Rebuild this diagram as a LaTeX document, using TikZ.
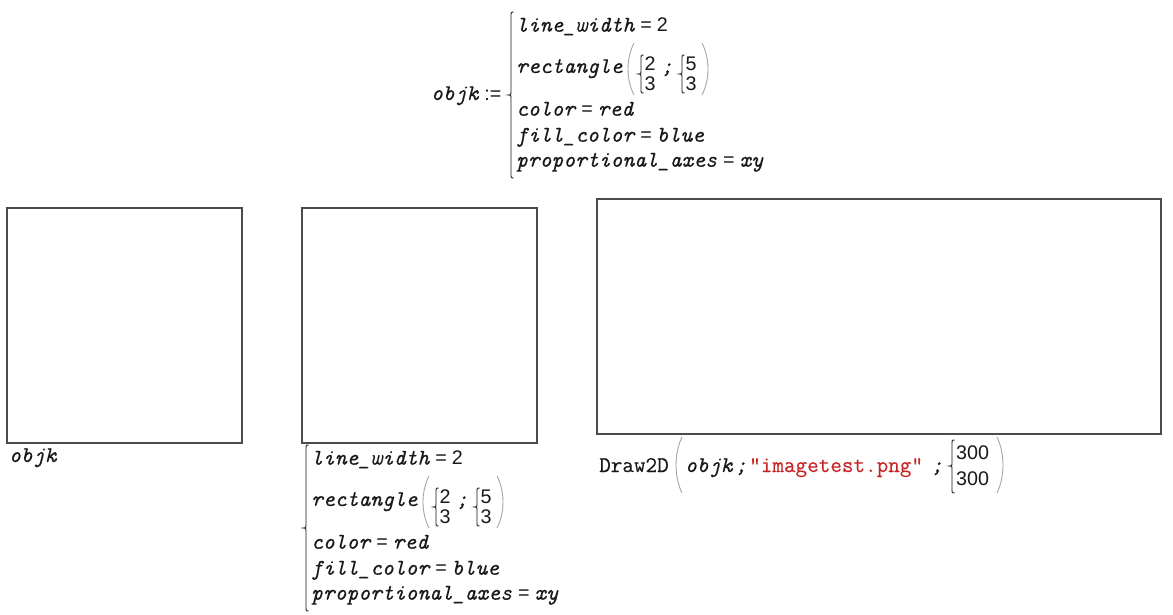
\documentclass[tikz,border=0pt]{standalone}
\usepackage{fontspec}
\newfontfamily\cour{Latin Modern Mono}[FakeBold=0.2]
\newfontfamily\arl{Liberation Sans}
\definecolor{boxgray}{RGB}{75,75,75}
\definecolor{strred}{RGB}{200,35,35}
\definecolor{pargray}{RGB}{165,165,165}
\definecolor{txtblack}{RGB}{25,25,25}

\tikzset{
  txt/.style={inner sep=0pt, anchor=base west, text=txtblack, font=\fontsize{22.5}{26}\cour\itshape},
  up/.style={inner sep=0pt, anchor=base west, text=txtblack, font=\fontsize{22.5}{26}\cour},
  num/.style={inner sep=0pt, anchor=base west, text=txtblack, font=\fontsize{19.7}{23}\arl},
  stack/.style={inner sep=0pt, anchor=base west, text=txtblack, align=left, font=\fontsize{19.7}{20}\arl},
  plot/.style={draw=boxgray, line width=1.6pt},
  bracel/.style={draw=txtblack, line width=0.9pt},
  paren/.style={draw=pargray, line width=0.9pt},
}

\newcommand\sfs{\arl\upshape\fontsize{19.7}{23}\selectfont}
\newcommand\eqsign{\hspace{6pt}{\sfs =}\hspace{5pt}}
% brace: x, ytop, ybot, ytip
\newcommand\mybrace[4]{%
  \draw[bracel] ({#1+2.5},#2) .. controls (#1,#2) .. (#1,{#2+2.5})
    -- (#1,{#4-2.5}) .. controls (#1,#4) .. ({#1-2.5},#4)
    .. controls (#1,#4) .. (#1,{#4+2.5})
    -- (#1,{#3-2.5}) .. controls (#1,#3) .. ({#1+2.5},#3);}
% left paren: xright, ytop, ybot
\newcommand\lparen[3]{%
  \draw[paren] (#1,#2) .. controls ({#1-8},{#2+0.3*(#3-#2)}) and ({#1-8},{#3-0.3*(#3-#2)}) .. (#1,#3);}
% right paren: xleft, ytop, ybot
\newcommand\rparen[3]{%
  \draw[paren] (#1,#2) .. controls ({#1+8},{#2+0.3*(#3-#2)}) and ({#1+8},{#3-0.3*(#3-#2)}) .. (#1,#3);}

\newcommand\objblock[1]{%
  \mybrace{511}{12}{178}{95}
  \node[txt] (#1a) at (516,31.7) {line\_width\eqsign{\sfs 2}};
  \node[txt] (#1b) at (516,73) {rectangle};
  \lparen{634}{43}{95}
  \mybrace{641}{55}{93}{74}
  \node[stack] (#1c) at (644.5,90) {2\\3};
  \node[txt] (#1e) at (661,73) {;};
  \mybrace{682}{55}{93}{74}
  \node[stack] (#1f) at (685.5,90) {5\\3};
  \rparen{702}{43}{95}
  \node[txt] (#1h) at (516,115.7) {color\eqsign red};
  \node[txt] (#1i) at (516,141.7) {fill\_color\eqsign blue};
  \node[txt] (#1j) at (516,166.7) {proportional\_axes\eqsign xy};
}

\begin{document}
\begin{tikzpicture}[x=1pt,y=-1pt]
  \fill[white] (0,0) rectangle (1173,614);
  \useasboundingbox (0,0) rectangle (1173,614);

  % top definition
  \node[txt] (objk) at (431,100) {objk\hspace{6pt}{\sfs :=}};
  \objblock{top}

  % plot frames
  \draw[plot] (7,208) rectangle (242,443);
  \draw[plot] (302,208) rectangle (537,443);
  \draw[plot] (597,199) rectangle (1161,434);

  % under first frame
  \node[txt] (objkb) at (9,462) {objk};

  % under second frame
  \begin{scope}[shift={(-205,433)}]
    \objblock{bot}
  \end{scope}

  % under third frame
  \node[up] (d2d) at (599,472) {Draw2D};
  \lparen{682}{437}{493}
  \node[txt] (dobj) at (685,472) {objk};
  \node[txt] (ds1) at (735,472) {;};
  \node[up, text=strred] (dstr) at (749,472) {"imagetest.png"};
  \node[txt] (ds2) at (931,472) {;};
  \mybrace{952}{440}{493}{466}
  \node[num] (dn1) at (956,459) {300};
  \node[num] (dn2) at (956,485) {300};
  \rparen{997}{437}{493}
\end{tikzpicture}
\end{document}
